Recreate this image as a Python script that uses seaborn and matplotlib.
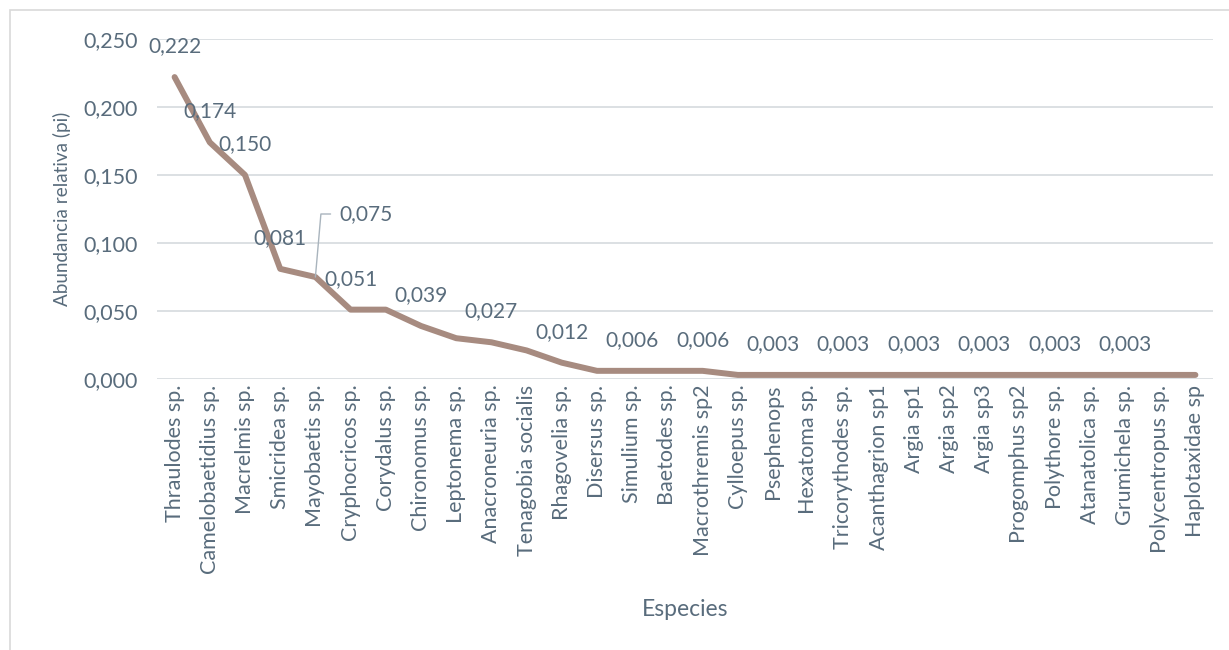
import pandas as pd
import seaborn as sns
import matplotlib.pyplot as plt
from matplotlib.patches import Rectangle
from matplotlib.ticker import FuncFormatter

especies = ['Thraulodes sp.', 'Camelobaetidius sp.', 'Macrelmis sp.', 'Smicridea sp.',
            'Mayobaetis sp.', 'Cryphocricos sp.', 'Corydalus sp.', 'Chironomus sp.',
            'Leptonema sp.', 'Anacroneuria sp.', 'Tenagobia socialis', 'Rhagovelia sp.',
            'Disersus sp.', 'Simulium sp.', 'Baetodes sp.', 'Macrothremis sp2',
            'Cylloepus sp.', 'Psephenops', 'Hexatoma sp.', 'Tricorythodes sp.',
            'Acanthagrion sp1', 'Argia sp1', 'Argia sp2', 'Argia sp3', 'Progomphus sp2',
            'Polythore sp.', 'Atanatolica sp.', 'Grumichela sp.', 'Polycentropus sp.',
            'Haplotaxidae sp']
pi = [0.222, 0.174, 0.150, 0.081, 0.075, 0.051, 0.051, 0.039, 0.030, 0.027,
      0.021, 0.012, 0.006, 0.006, 0.006, 0.006, 0.003, 0.003, 0.003, 0.003,
      0.003, 0.003, 0.003, 0.003, 0.003, 0.003, 0.003, 0.003, 0.003, 0.003]
# puntos con etiqueta de datos (el 4 lleva linea guia)
etiquetados = [0, 1, 2, 3, 5, 7, 9, 11, 13, 15, 17, 19, 21, 23, 25, 27]
guia = 4

df = pd.DataFrame({'Especies': especies, 'pi': pi})

sns.set_style('white')
plt.rcParams['font.family'] = ['Lato', 'DejaVu Sans']
texto = '#596C7C'
linea = '#A78B80'

fig = plt.figure(figsize=(12.29, 6.5), dpi=100)
ax = fig.add_axes([157 / 1229, 1 - 379 / 650, 1056 / 1229, 340 / 650])

sns.lineplot(data=df, x='Especies', y='pi', sort=False, color=linea,
             linewidth=4.3, solid_capstyle='round', ax=ax)

ax.set_xlim(-0.5, len(especies) - 0.5)
ax.set_ylim(0, 0.25)
ax.set_yticks([0, 0.05, 0.10, 0.15, 0.20, 0.25])
ax.yaxis.set_major_formatter(FuncFormatter(lambda v, p: f'{v:.3f}'.replace('.', ',')))
ax.grid(axis='y', color='#D9DDE0', linewidth=1.3)
ax.set_axisbelow(True)
for s in ['top', 'right', 'left', 'bottom']:
    ax.spines[s].set_visible(False)

ax.tick_params(axis='y', length=0, pad=14, labelsize=15.5, labelcolor=texto)
ax.tick_params(axis='x', length=0, pad=4, labelsize=15.5, labelcolor=texto, labelrotation=90)

ax.set_xlabel('')
ax.set_ylabel('')
fig.text(685 / 1229, 1 - 610 / 650, 'Especies', fontsize=16.5, color=texto,
         ha='center', va='center')
fig.text(62 / 1229, 1 - 209 / 650, 'Abundancia relativa (pi)', fontsize=13.6,
         color=texto, rotation=90, ha='center', va='center')

fmt = lambda v: f'{v:.3f}'.replace('.', ',')
for i in etiquetados:
    ax.annotate(fmt(pi[i]), (i, pi[i]), xytext=(0, 31), textcoords='offset pixels',
                ha='center', va='center', fontsize=15, color=texto)

ax.annotate(fmt(pi[guia]), (guia, pi[guia]), xytext=(24, 63), textcoords='offset pixels',
            ha='left', va='center', fontsize=15, color=texto,
            arrowprops=dict(arrowstyle='-', color='#A9B4BD', lw=1,
                            connectionstyle='angle,angleA=0,angleB=85,rad=0',
                            relpos=(0, 0.5), shrinkA=4, shrinkB=0))

fig.add_artist(Rectangle((10 / 1229, -0.1), 1.1, 1 - 10 / 650 + 0.1,
                         transform=fig.transFigure, fill=False,
                         edgecolor='#D9D9D9', linewidth=1.2))

fig.savefig('out.png', dpi=100)
